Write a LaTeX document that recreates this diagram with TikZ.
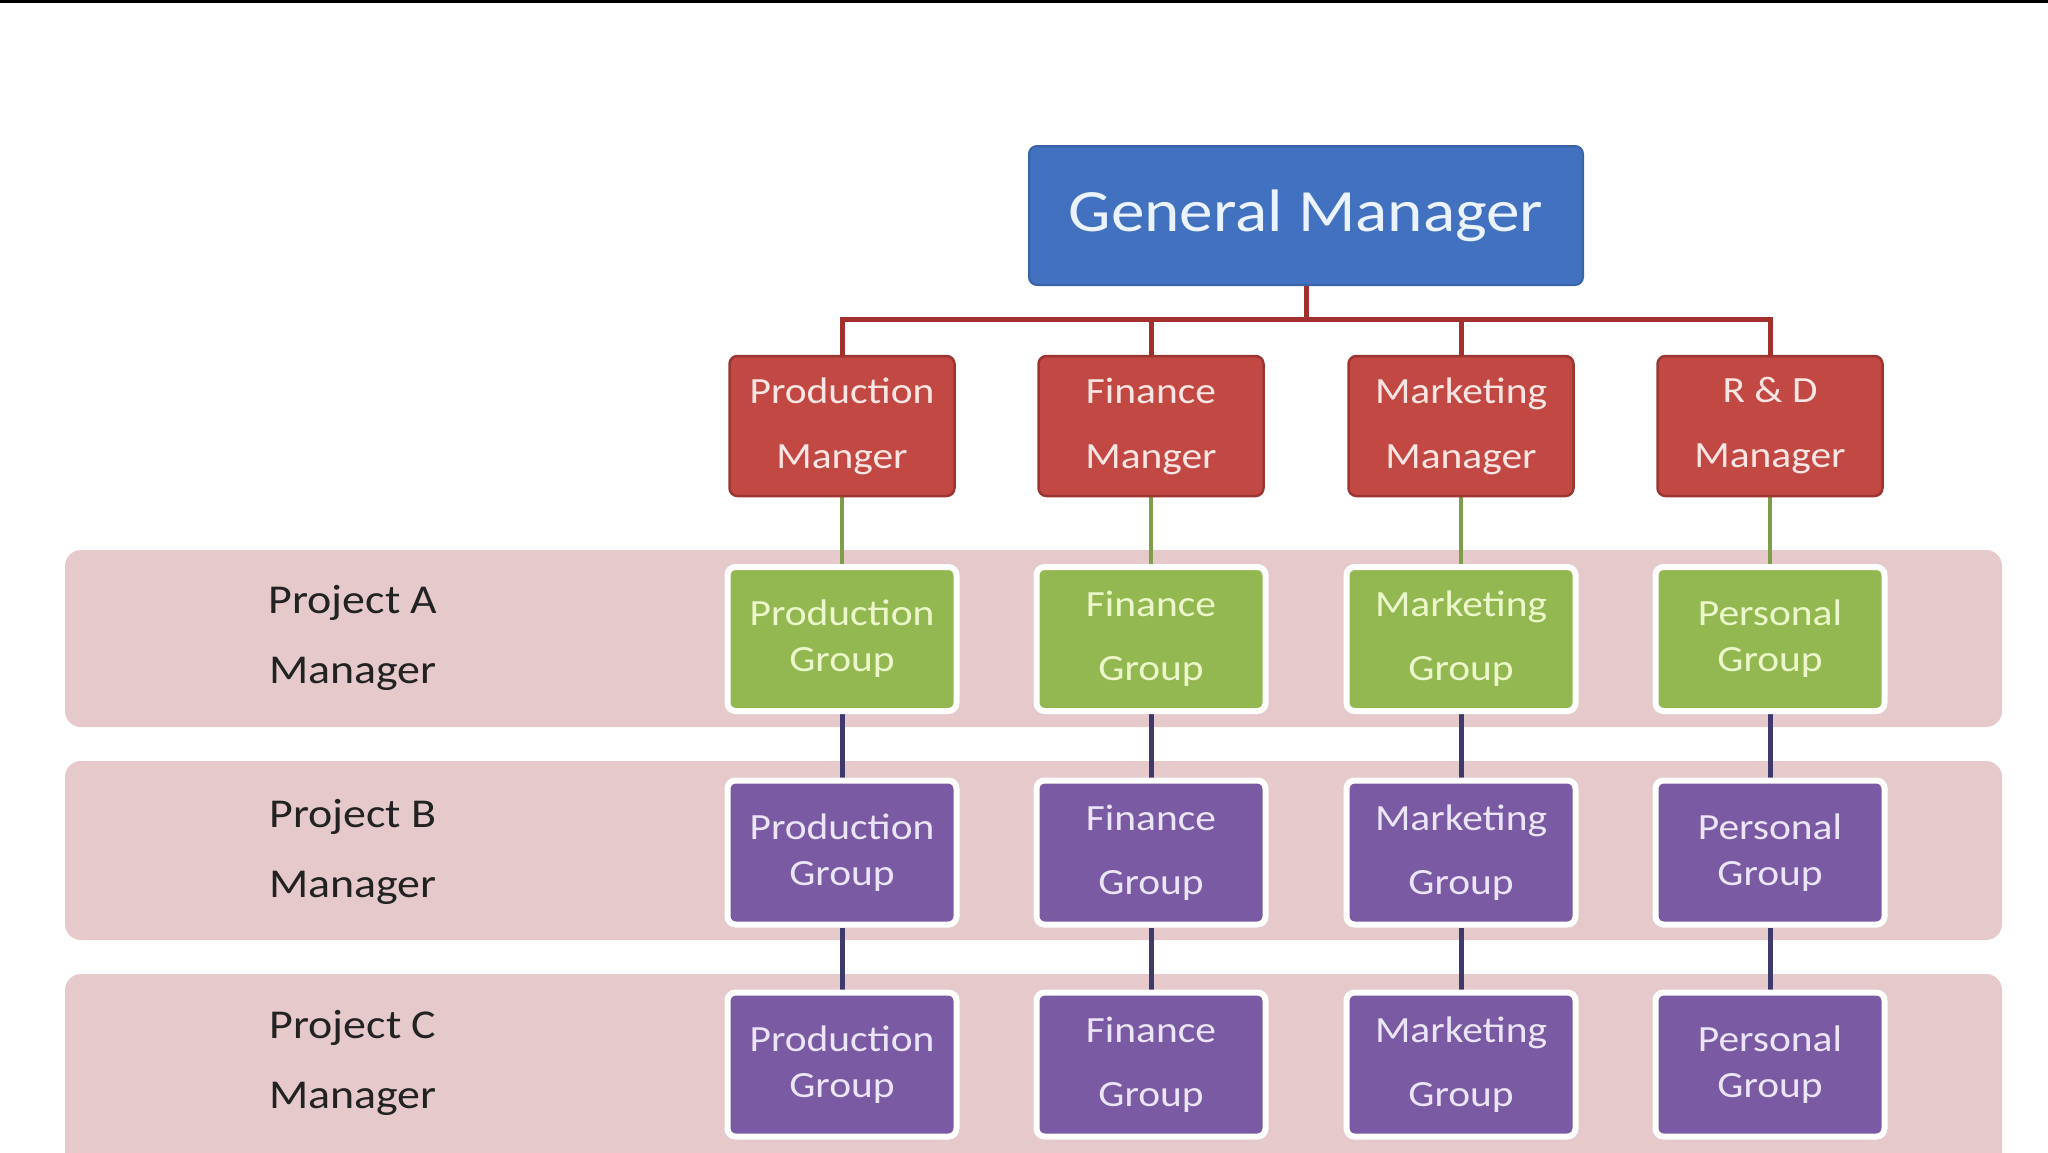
\documentclass[tikz,border=0pt]{standalone}
\usepackage{fontspec}
\newfontfamily\cfont[FakeStretch=1.12]{Carlito}
\usetikzlibrary{backgrounds}
\definecolor{gmblue}{HTML}{4271C0}
\definecolor{gmblueD}{HTML}{3A62A6}
\definecolor{gmtext}{HTML}{EAF3FF}
\definecolor{mred}{HTML}{C24844}
\definecolor{mredD}{HTML}{9C3431}
\definecolor{mtext}{HTML}{FCE6E3}
\definecolor{ggreen}{HTML}{94B851}
\definecolor{gtext}{HTML}{ECF8CC}
\definecolor{gpurple}{HTML}{7A5AA3}
\definecolor{ptext}{HTML}{ECE4F7}
\definecolor{bandpink}{HTML}{E6CACB}
\definecolor{labtext}{HTML}{222222}
\definecolor{redline}{HTML}{A3302D}
\definecolor{greenline}{HTML}{7F9E4A}
\definecolor{purpline}{HTML}{3E3A6C}
\begin{document}
\begin{tikzpicture}[x=1pt,y=-1pt,
  box/.style={rounded corners=8pt, inner sep=0pt, align=center},
  gm/.style={box, fill=gmblue, draw=gmblueD, line width=2pt, minimum width=554pt, minimum height=139pt, text=gmtext, font=\cfont\fontsize{60}{70}\selectfont},
  mgr/.style={box, fill=mred, draw=mredD, line width=2.5pt, minimum width=225pt, minimum height=140pt, text=mtext, font=\cfont\fontsize{37}{65}\selectfont},
  grp/.style={box, draw=white, line width=6pt, minimum width=229pt, minimum height=144pt, font=\cfont\fontsize{37}{46}\selectfont},
  loose/.style={font=\cfont\fontsize{37}{64}\selectfont},
  ggrp/.style={grp, fill=ggreen, text=gtext},
  pgrp/.style={grp, fill=gpurple, text=ptext},
  lab/.style={align=center, inner sep=0pt, text=labtext, font=\cfont\fontsize{41}{70}\selectfont},
  band/.style={fill=bandpink, rounded corners=16pt},
  rline/.style={draw=redline, line width=5pt},
  gline/.style={draw=greenline, line width=4pt},
  pline/.style={draw=purpline, line width=5pt}]
\useasboundingbox (0,0) rectangle (2048,1152);
\clip (0,0) rectangle (2048,1152);
\fill[black] (0,0) rectangle (2048,3);

\node[gm] (gm) at (1306,215.5) {General Manager};

\node[mgr] (m1) at (842,426) {Production\\Manger};
\node[mgr] (m2) at (1151,426) {Finance\\Manger};
\node[mgr] (m3) at (1461,426) {Marketing\\Manager};
\node[mgr] (m4) at (1770,426) {R \& D\\Manager};

\node[ggrp] (g1) at (842,639) {Production\\Group};
\node[ggrp,loose] (g2) at (1151,639) {Finance\\Group};
\node[ggrp,loose] (g3) at (1461,639) {Marketing\\Group};
\node[ggrp] (g4) at (1770,639) {Personal\\Group};

\node[pgrp] (b1) at (842,852.5) {Production\\Group};
\node[pgrp,loose] (b2) at (1151,852.5) {Finance\\Group};
\node[pgrp,loose] (b3) at (1461,852.5) {Marketing\\Group};
\node[pgrp] (b4) at (1770,852.5) {Personal\\Group};

\node[pgrp] (d1) at (842,1064.5) {Production\\Group};
\node[pgrp,loose] (d2) at (1151,1064.5) {Finance\\Group};
\node[pgrp,loose] (d3) at (1461,1064.5) {Marketing\\Group};
\node[pgrp] (d4) at (1770,1064.5) {Personal\\Group};

\node[lab] (la) at (353,638) {Project A\\Manager};
\node[lab] (lb) at (353,852) {Project B\\Manager};
\node[lab] (lc) at (353,1063) {Project C\\Manager};

\coordinate (bus) at (1306,319);

\begin{pgfonlayer}{background}
  \path[band] (65,550) rectangle (2002,727);
  \path[band] (65,761) rectangle (2002,940);
  \path[band] (65,974) rectangle (2002,1185);
  \path[rline] (gm.south) -- (bus);
  \path[rline] (m1.north) -- (m1.north |- bus) -- (m4.north |- bus) -- (m4.north);
  \path[rline] (m2.north) -- (m2.north |- bus);
  \path[rline] (m3.north) -- (m3.north |- bus);
  \foreach \i in {1,2,3,4}{
    \path[gline] (m\i.south) -- (g\i.north);
    \path[pline] (g\i.south) -- (b\i.north);
    \path[pline] (b\i.south) -- (d\i.north);
  }
\end{pgfonlayer}
\end{tikzpicture}
\end{document}
